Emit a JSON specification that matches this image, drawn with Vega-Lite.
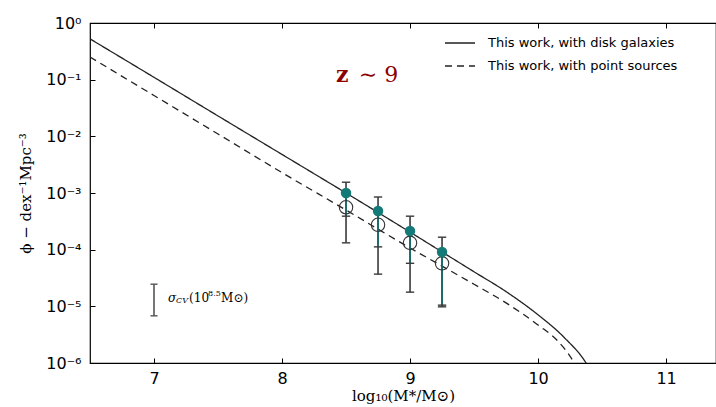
{
  "$schema": "https://vega.github.io/schema/vega-lite/v6.json",
  "autosize": {"type": "none"},
  "padding": {"left": 90, "top": 23, "right": 0, "bottom": 44},
  "width": 626,
  "height": 340,
  "background": "white",
  "config": {
    "view": {"stroke": "black", "strokeWidth": 1.2},
    "axis": {"labelFont": "DejaVu Sans", "labelFontSize": 16, "labelColor": "black", "tickColor": "black", "domainColor": "black", "grid": false}
  },
  "datasets": {
    "curves": [
      {"x": 6.5, "phi": 0.525, "s": "This work, with disk galaxies"},
      {"x": 7.0, "phi": 0.11, "s": "This work, with disk galaxies"},
      {"x": 7.5, "phi": 0.0229, "s": "This work, with disk galaxies"},
      {"x": 8.0, "phi": 0.00479, "s": "This work, with disk galaxies"},
      {"x": 8.5, "phi": 0.001, "s": "This work, with disk galaxies"},
      {"x": 9.0, "phi": 0.000204, "s": "This work, with disk galaxies"},
      {"x": 9.25, "phi": 0.0000912, "s": "This work, with disk galaxies"},
      {"x": 9.5, "phi": 0.0000407, "s": "This work, with disk galaxies"},
      {"x": 9.75, "phi": 0.0000182, "s": "This work, with disk galaxies"},
      {"x": 10.0, "phi": 0.00000708, "s": "This work, with disk galaxies"},
      {"x": 10.2, "phi": 0.00000288, "s": "This work, with disk galaxies"},
      {"x": 10.375, "phi": 0.000001, "s": "This work, with disk galaxies"},
      {"x": 10.45, "phi": 0.0000005, "s": "This work, with disk galaxies"},
      {"x": 6.5, "phi": 0.251, "s": "This work, with point sources"},
      {"x": 7.0, "phi": 0.0525, "s": "This work, with point sources"},
      {"x": 7.5, "phi": 0.011, "s": "This work, with point sources"},
      {"x": 8.0, "phi": 0.00229, "s": "This work, with point sources"},
      {"x": 8.5, "phi": 0.0005, "s": "This work, with point sources"},
      {"x": 9.0, "phi": 0.000107, "s": "This work, with point sources"},
      {"x": 9.25, "phi": 0.0000513, "s": "This work, with point sources"},
      {"x": 9.5, "phi": 0.0000245, "s": "This work, with point sources"},
      {"x": 9.75, "phi": 0.0000115, "s": "This work, with point sources"},
      {"x": 10.0, "phi": 0.00000468, "s": "This work, with point sources"},
      {"x": 10.15, "phi": 0.0000025, "s": "This work, with point sources"},
      {"x": 10.27, "phi": 0.00000112, "s": "This work, with point sources"},
      {"x": 10.35, "phi": 0.0000005, "s": "This work, with point sources"}
    ],
    "obs": [
      {"x": 8.5, "filled": 0.001, "hollow": 0.00056, "top": 0.00155, "mid": 0.00039, "bot": 0.000132},
      {"x": 8.75, "filled": 0.00048, "hollow": 0.000275, "top": 0.00085, "mid": 0.000112, "bot": 0.000037},
      {"x": 9.0, "filled": 0.000214, "hollow": 0.000132, "top": 0.00039, "mid": 0.0000575, "bot": 0.0000178},
      {"x": 9.25, "filled": 0.000091, "hollow": 0.0000575, "top": 0.000166, "mid": 0.0000105, "bot": 0.0000098}
    ],
    "cv": [{"x": 7.0, "lo": 0.0000068, "hi": 0.0000246}]
  },
  "resolve": {"axis": {"x": "independent"}},
  "layer": [
    {
      "data": {"name": "curves"},
      "mark": {"type": "line", "color": "#222", "strokeWidth": 1.3, "clip": true, "interpolate": "monotone"},
      "encoding": {
        "x": {"field": "x", "type": "quantitative", "scale": {"domain": [6.5, 11.39], "nice": false, "zero": false},
          "axis": {"orient": "bottom", "values": [7, 8, 9, 10, 11], "tickSize": 5, "offset": -5, "labelPadding": 7, "domain": false,
            "title": "log₁₀(M*/M⊙)", "titleFont": "DejaVu Serif", "titleFontSize": 15, "titleFontWeight": "normal", "titlePadding": 2}},
        "y": {"field": "phi", "type": "quantitative", "scale": {"type": "log", "domain": [0.000001, 1], "nice": false},
          "axis": {"orient": "left", "values": [1, 0.1, 0.01, 0.001, 0.0001, 0.00001, 0.000001], "tickSize": 5, "offset": -5, "labelPadding": 9, "domain": false,
            "labelExpr": "'10' + ['⁰','⁻¹','⁻²','⁻³','⁻⁴','⁻⁵','⁻⁶'][-round(log(datum.value)/LN10)]",
            "title": "ϕ − dex⁻¹Mpc⁻³", "titleFont": "DejaVu Serif", "titleFontSize": 15, "titleFontWeight": "normal", "titlePadding": 12}},
        "strokeDash": {"field": "s", "type": "nominal",
          "scale": {"domain": ["This work, with disk galaxies", "This work, with point sources"], "range": [[1, 0], [7, 5]]},
          "legend": {"orient": "none", "legendX": 354, "legendY": 4, "title": null, "labelFont": "DejaVu Sans", "labelFontSize": 13, "labelColor": "black", "labelLimit": 400,
            "symbolType": "stroke", "symbolSize": 900, "symbolStrokeColor": "#222", "symbolStrokeWidth": 1.3, "labelOffset": 12, "rowPadding": -8}}
      }
    },
    {
      "data": {"name": "curves"},
      "mark": {"type": "line", "opacity": 0},
      "encoding": {
        "x": {"field": "x", "type": "quantitative", "axis": {"orient": "top", "values": [7, 8, 9, 10, 11], "tickSize": 5, "offset": -5, "labels": false, "domain": false, "title": null}},
        "y": {"field": "phi", "type": "quantitative"}
      }
    },
    {
      "data": {"name": "obs"},
      "mark": {"type": "rule", "color": "#3a3a3a", "strokeWidth": 1.6},
      "encoding": {
        "x": {"field": "x", "type": "quantitative", "axis": null},
        "y": {"field": "top", "type": "quantitative"},
        "y2": {"field": "bot"}
      }
    },
    {
      "data": {"name": "obs"},
      "mark": {"type": "rule", "color": "#0e6f6d", "strokeWidth": 1.6},
      "encoding": {
        "x": {"field": "x", "type": "quantitative", "axis": null},
        "y": {"field": "filled", "type": "quantitative"},
        "y2": {"field": "mid"}
      }
    },
    {
      "data": {"name": "obs"},
      "transform": [{"fold": ["top", "mid", "bot"], "as": ["k", "v"]}],
      "mark": {"type": "point", "shape": "M-1,0H1", "filled": false, "size": 70, "color": "#3a3a3a", "strokeWidth": 1.4, "opacity": 1},
      "encoding": {
        "x": {"field": "x", "type": "quantitative", "axis": null},
        "y": {"field": "v", "type": "quantitative"}
      }
    },
    {
      "data": {"name": "obs"},
      "mark": {"type": "point", "filled": false, "size": 180, "color": "#333", "strokeWidth": 1.1, "opacity": 1},
      "encoding": {
        "x": {"field": "x", "type": "quantitative", "axis": null},
        "y": {"field": "hollow", "type": "quantitative"}
      }
    },
    {
      "data": {"name": "obs"},
      "mark": {"type": "point", "filled": true, "size": 110, "color": "#137a78", "opacity": 1},
      "encoding": {
        "x": {"field": "x", "type": "quantitative", "axis": null},
        "y": {"field": "filled", "type": "quantitative"}
      }
    },
    {
      "data": {"name": "cv"},
      "mark": {"type": "rule", "color": "#555", "strokeWidth": 1.6},
      "encoding": {
        "x": {"field": "x", "type": "quantitative", "axis": null},
        "y": {"field": "lo", "type": "quantitative"},
        "y2": {"field": "hi"}
      }
    },
    {
      "data": {"name": "cv"},
      "transform": [{"fold": ["lo", "hi"], "as": ["k", "v"]}],
      "mark": {"type": "point", "shape": "M-1,0H1", "filled": false, "size": 50, "color": "#555", "strokeWidth": 1.4, "opacity": 1},
      "encoding": {
        "x": {"field": "x", "type": "quantitative", "axis": null},
        "y": {"field": "v", "type": "quantitative"}
      }
    },
    {
      "data": {"values": [{"x": 7.11, "y": 0.000014, "t": "σ"}]},
      "mark": {"type": "text", "align": "left", "baseline": "middle", "font": "DejaVu Serif", "fontStyle": "italic", "fontSize": 12, "color": "black"},
      "encoding": {
        "x": {"field": "x", "type": "quantitative", "axis": null},
        "y": {"field": "y", "type": "quantitative"},
        "text": {"field": "t"}
      }
    },
    {
      "data": {"values": [{"x": 7.11, "y": 0.000014, "t": "CV"}]},
      "mark": {"type": "text", "align": "left", "baseline": "middle", "font": "DejaVu Serif", "fontStyle": "italic", "fontSize": 8, "dx": 8, "dy": 3, "color": "black"},
      "encoding": {
        "x": {"field": "x", "type": "quantitative", "axis": null},
        "y": {"field": "y", "type": "quantitative"},
        "text": {"field": "t"}
      }
    },
    {
      "data": {"values": [{"x": 7.11, "y": 0.000014, "t": "(10"}]},
      "mark": {"type": "text", "align": "left", "baseline": "middle", "font": "DejaVu Serif", "fontSize": 12, "dx": 21, "color": "black"},
      "encoding": {
        "x": {"field": "x", "type": "quantitative", "axis": null},
        "y": {"field": "y", "type": "quantitative"},
        "text": {"field": "t"}
      }
    },
    {
      "data": {"values": [{"x": 7.11, "y": 0.000014, "t": "8.5"}]},
      "mark": {"type": "text", "align": "left", "baseline": "middle", "font": "DejaVu Serif", "fontSize": 8, "dx": 40, "dy": -4, "color": "black"},
      "encoding": {
        "x": {"field": "x", "type": "quantitative", "axis": null},
        "y": {"field": "y", "type": "quantitative"},
        "text": {"field": "t"}
      }
    },
    {
      "data": {"values": [{"x": 7.11, "y": 0.000014, "t": "M⊙)"}]},
      "mark": {"type": "text", "align": "left", "baseline": "middle", "font": "DejaVu Serif", "fontSize": 12, "dx": 53, "color": "black"},
      "encoding": {
        "x": {"field": "x", "type": "quantitative", "axis": null},
        "y": {"field": "y", "type": "quantitative"},
        "text": {"field": "t"}
      }
    },
    {
      "data": {"values": [{"x": 8.47, "y": 0.12, "t": "z"}]},
      "mark": {"type": "text", "align": "center", "baseline": "middle", "font": "DejaVu Serif", "fontWeight": "bold", "fontSize": 22, "color": "#8b0000"},
      "encoding": {
        "x": {"field": "x", "type": "quantitative", "axis": null},
        "y": {"field": "y", "type": "quantitative"},
        "text": {"field": "t"}
      }
    },
    {
      "data": {"values": [{"x": 8.6, "y": 0.12, "t": "∼ 9"}]},
      "mark": {"type": "text", "align": "left", "baseline": "middle", "font": "DejaVu Serif", "fontSize": 22, "color": "#8b0000"},
      "encoding": {
        "x": {"field": "x", "type": "quantitative", "axis": null},
        "y": {"field": "y", "type": "quantitative"},
        "text": {"field": "t"}
      }
    }
  ]
}
